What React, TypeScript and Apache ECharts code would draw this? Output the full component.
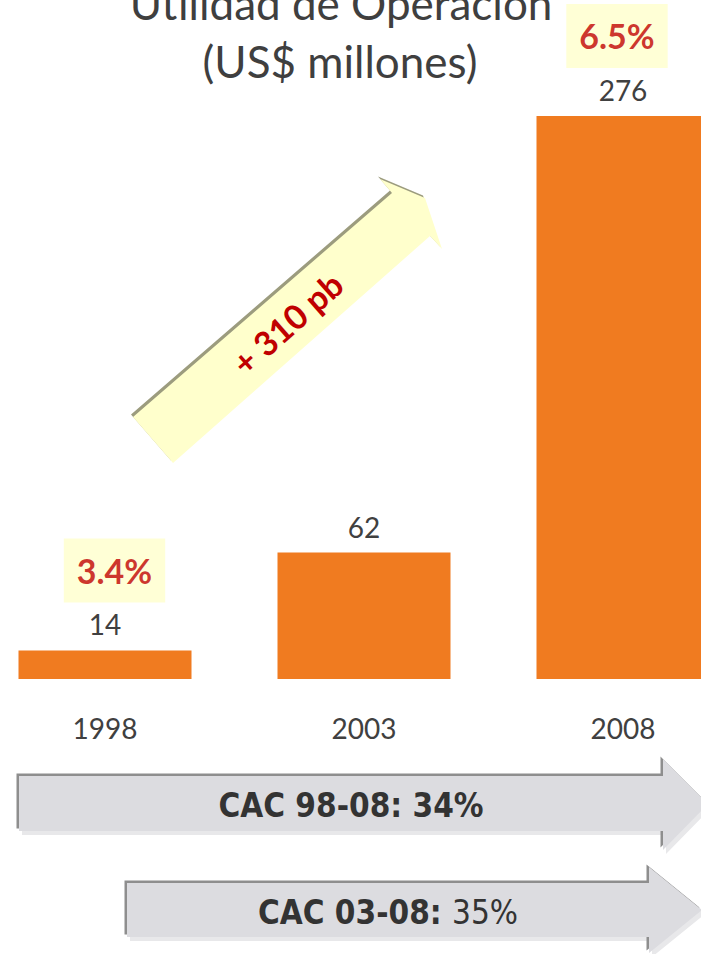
import React, { useEffect, useRef } from "react";
import * as echarts from "echarts";

const categories = ["1998", "2003", "2008"];
const values = [14, 62, 276];
const marginYears = ["1998", "2008"];
const marginAnchors = [14, 276];
const marginLabels = ["3.4%", "6.5%"];
const titleLines = ["Utilidad de Operación", "(US$ millones)"];
const changeLabel = "+ 310 pb";
const cagrLong = { label: "CAC 98-08:", value: "34%" };
const cagrShort = { label: "CAC 03-08:", value: "35%" };

const FONT = "Lato, 'Open Sans', sans-serif";
const NARROW = "'Liberation Sans Narrow', 'DejaVu Sans Condensed', Lato, sans-serif";

// the chart canvas starts OX px left of the page so that the category bands can overflow both edges
const OX = 25;

function pts(list: number[][], dx = 0, dy = 0) {
  return list.map((p) => [p[0] + OX + dx, p[1] + dy]);
}

function grayArrow(list: number[][], text: string, tx: number, ty: number) {
  return [
    { type: "polygon", shape: { points: pts(list, 3, 4) }, style: { fill: "#E8E8EA" }, z: 10 },
    { type: "polygon", shape: { points: pts(list, -2.5, -2.5) }, style: { fill: "#8E8E8E" }, z: 11 },
    { type: "polygon", shape: { points: pts(list) }, style: { fill: "#DCDCE0" }, z: 12 },
    {
      type: "text",
      x: tx + OX,
      y: ty,
      z: 13,
      style: {
        text: text,
        align: "center",
        verticalAlign: "middle",
        fill: "#333333",
        fontFamily: NARROW,
        fontSize: 33,
        fontWeight: "bold",
        rich: {
          b: { fontFamily: NARROW, fontSize: 33, fontWeight: "bold", fill: "#333333" },
          n: { fontFamily: NARROW, fontSize: 33, fontWeight: "normal", fill: "#333333" },
        },
      },
    },
  ];
}

export default function App() {
  const ref = useRef<HTMLDivElement>(null);
  useEffect(() => {
    if (!ref.current) return;
    const chart = echarts.init(ref.current, undefined, { renderer: "svg" });

    const yellowPts = [
      [133, 417],
      [392, 193],
      [380, 179],
      [425, 198],
      [442, 249],
      [430, 236],
      [173, 463],
    ];
    const arrow1 = [
      [19, 776],
      [663, 776],
      [663, 759],
      [708, 804],
      [663, 850],
      [663, 831],
      [19, 831],
    ];
    const arrow2 = [
      [127, 883],
      [649, 883],
      [649, 867],
      [702, 910],
      [649, 953],
      [649, 937],
      [127, 937],
    ];

    const option: any = {
      animation: false,
      backgroundColor: "#FFFFFF",
      grid: { left: 0.5, top: 67, width: 777, bottom: 275, containLabel: false },
      xAxis: {
        type: "category",
        data: categories,
        axisLine: { show: false },
        axisTick: { show: false },
        axisLabel: { fontSize: 28, color: "#404040", fontFamily: FONT, margin: 35 },
      },
      yAxis: {
        type: "value",
        min: 0,
        max: 300,
        show: false,
        splitLine: { show: false },
      },
      series: [
        {
          type: "bar",
          data: values,
          barWidth: 173,
          itemStyle: { color: "#F07B20" },
          label: {
            show: true,
            position: "top",
            distance: 12,
            fontSize: 28,
            color: "#404040",
            fontFamily: FONT,
          },
          z: 2,
        },
        {
          type: "scatter",
          symbolSize: 0,
          data: marginYears.map((c, i) => ({
            value: [c, marginAnchors[i]],
            name: marginLabels[i],
            label: { offset: [i === 0 ? 9.5 : -6, 0] },
          })),
          label: {
            show: true,
            position: "top",
            distance: 48,
            formatter: (p: any) => p.name,
            fontSize: 34,
            fontWeight: "bold",
            color: "#C00000",
            fontFamily: FONT,
            backgroundColor: "#FFFFCC",
            lineHeight: 36,
            padding: [14, 13, 14, 13],
          },
          z: 5,
        },
      ],
      graphic: [
        {
          type: "text",
          x: 341 + OX,
          y: 3,
          style: {
            text: titleLines[0],
            align: "center",
            verticalAlign: "middle",
            fontSize: 44,
            fontFamily: FONT,
            fill: "#3F3F3F",
          },
        },
        {
          type: "text",
          x: 340 + OX,
          y: 61,
          style: {
            text: titleLines[1],
            align: "center",
            verticalAlign: "middle",
            fontSize: 44,
            fontFamily: FONT,
            fill: "#3F3F3F",
          },
        },
        { type: "polygon", shape: { points: pts(yellowPts, -2, -2.5) }, style: { fill: "#9C9C7E" }, z: 20 },
        { type: "polygon", shape: { points: pts(yellowPts) }, style: { fill: "#FFFFCC" }, z: 21 },
        {
          type: "text",
          x: 287 + OX,
          y: 323,
          rotation: (41.5 * Math.PI) / 180,
          z: 22,
          style: {
            text: changeLabel,
            align: "center",
            verticalAlign: "middle",
            fontSize: 34,
            fontWeight: "bold",
            fontFamily: FONT,
            fill: "#C00000",
          },
        },
        ...grayArrow(arrow1, `{b|${cagrLong.label} ${cagrLong.value}}`, 351, 805),
        ...grayArrow(arrow2, `{b|${cagrShort.label}} {n|${cagrShort.value}}`, 388, 912),
      ],
    };
    chart.setOption(option);
    return () => chart.dispose();
  }, []);

  return (
    <div
      ref={ref}
      style={{ position: "fixed", left: -OX, top: 0, width: 778, height: 954, background: "#fff" }}
    />
  );
}
